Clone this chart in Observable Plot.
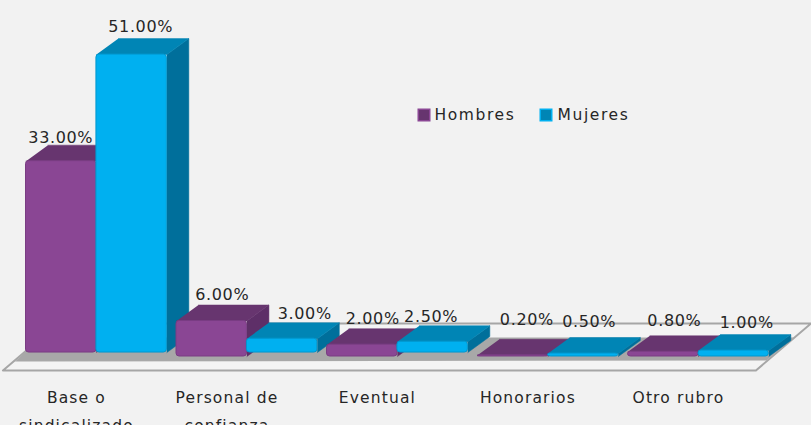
<!DOCTYPE html>
<html>
<head>
<meta charset="utf-8">
<script src="https://cdn.jsdelivr.net/npm/d3@7"></script>
<script src="https://cdn.jsdelivr.net/npm/@observablehq/plot@0.6"></script>
<style>
html,body{margin:0;padding:0;background:#f2f2f2;overflow:hidden}
svg{display:block}
.vals{letter-spacing:0.65px}
.cats{letter-spacing:1.15px}
.leg{letter-spacing:1.6px}
</style>
</head>
<body>
<div id="chart"></div>
<script>
const categories = ["Base o\nsindicalizado", "Personal de\nconfianza", "Eventual", "Honorarios", "Otro rubro"];
const hombres = [33, 6, 2, 0.2, 0.8];
const mujeres = [51, 3, 2.5, 0.5, 1];

// layout, in axis units
const barWidth = 0.468, depthX = 0.146, depthY = 2.7;
const bottomH = [0.67, 0, 0, 0, 0];
const bottomM = [0.67, 0.67, 0.67, 0, 0];
const nudgeH = [[-0.003, -0.68], [0.07, -0.17], [0.07, -0.17], [0.094, 1.35], [0.074, 0.68]];
const nudgeM = [[0.06, 0.17], [0.15, -0.34], [-0.01, -0.34], [0.04, 0.84], [0.087, 0.17]];

const colors = {
  H: {front: "#8a4694", top: "#67356f", side: "#5e2f68", edge: "#7a3d83"},
  M: {front: "#00b0f0", top: "#0085b5", side: "#006f9b", edge: "#0097ce"}
};

const series = [
  {key: "H", values: hombres, bottoms: bottomH, nudges: nudgeH, offset: 0},
  {key: "M", values: mujeres, bottoms: bottomM, nudges: nudgeM, offset: barWidth}
];

const faces = [], fronts = [], labels = [];
categories.forEach((c, i) => {
  for (const s of series) {
    const x1 = i + s.offset, x2 = x1 + barWidth, v = s.values[i], b = s.bottoms[i], col = colors[s.key];
    const add = (id, fill, pts) => pts.forEach(([x, y]) => faces.push({id, fill, x, y}));
    add(`${s.key}${i}side`, col.side, [[x2, b], [x2 + depthX, b + depthY], [x2 + depthX, v + depthY], [x2, v]]);
    add(`${s.key}${i}top`, col.top, [[x1, v], [x2, v], [x2 + depthX, v + depthY], [x1 + depthX, v + depthY]]);
    fronts.push({x1, x2, y1: b, y2: v, fill: col.front, stroke: col.edge});
    const [nx, ny] = s.nudges[i];
    labels.push({x: (x1 + x2) / 2 + nx, y: v + depthY + ny, text: v.toFixed(2) + "%"});
  }
});

const plateX = [-0.153, 4.85, 5.216, 0.213];
const plateY = [-2.36, -2.36, 5.57, 5.57];
const shadowX = [-0.073, 4.92, 5.10, 0.10];
const shadowY = [-0.84, -0.68, 3.21, 3.21];
const poly = (xs, ys) => xs.map((x, i) => ({x, y: ys[i]})).concat([{x: xs[0], y: ys[0]}]);

const font = "'DejaVu Sans', sans-serif";
const ink = "#262626";

const plot = Plot.plot({
  width: 811,
  height: 425,
  margin: 0,
  style: {background: "#f2f2f2", fontFamily: font, overflow: "hidden"},
  x: {axis: null, domain: [-25.5 / 150.5, 785.5 / 150.5], range: [0, 811]},
  y: {axis: null, domain: [-69 / 5.92, 356 / 5.92], range: [425, 0]},
  marks: [
    Plot.line(poly(plateX, plateY), {x: "x", y: "y", fill: "#f4f4f4", stroke: "#a6a6a6", strokeWidth: 2}),
    Plot.line(poly(shadowX, shadowY), {x: "x", y: "y", fill: "#a8a8a8", stroke: "none"}),
    Plot.line(faces, {x: "x", y: "y", z: "id", fill: "fill", stroke: "fill", strokeWidth: 0.5, strokeLinejoin: "round"}),
    Plot.rect(fronts, {x1: "x1", x2: "x2", y1: "y1", y2: "y2", fill: "fill", stroke: "stroke", strokeWidth: 1, rx: 3}),
    Plot.text(labels, {x: "x", y: "y", text: "text", dy: -11, fontSize: 16, fill: ink, lineAnchor: "middle", className: "vals"}),
    Plot.text(categories, {
      x: (d, i) => i + 0.335, y: () => -4.5, text: d => d, fontSize: 15.5, fill: ink,
      lineAnchor: "top", lineHeight: 1.81, className: "cats"
    }),
    Plot.dot(["Hombres"], {frameAnchor: "top-left", dx: 423.5, dy: 114.5, symbol: "square", r: 6.5, fill: "#67356f", stroke: "#8a4694"}),
    Plot.dot(["Mujeres"], {frameAnchor: "top-left", dx: 545.5, dy: 114.5, symbol: "square", r: 6.5, fill: "#0085b5", stroke: "#00b0f0"}),
    Plot.text(["Hombres"], {frameAnchor: "top-left", dx: 434, dy: 114.5, text: d => d, textAnchor: "start", lineAnchor: "middle", fontSize: 15.5, fill: ink, className: "leg"}),
    Plot.text(["Mujeres"], {frameAnchor: "top-left", dx: 557, dy: 114.5, text: d => d, textAnchor: "start", lineAnchor: "middle", fontSize: 15.5, fill: ink, className: "leg"})
  ]
});
document.getElementById("chart").append(plot);
</script>
</body>
</html>
